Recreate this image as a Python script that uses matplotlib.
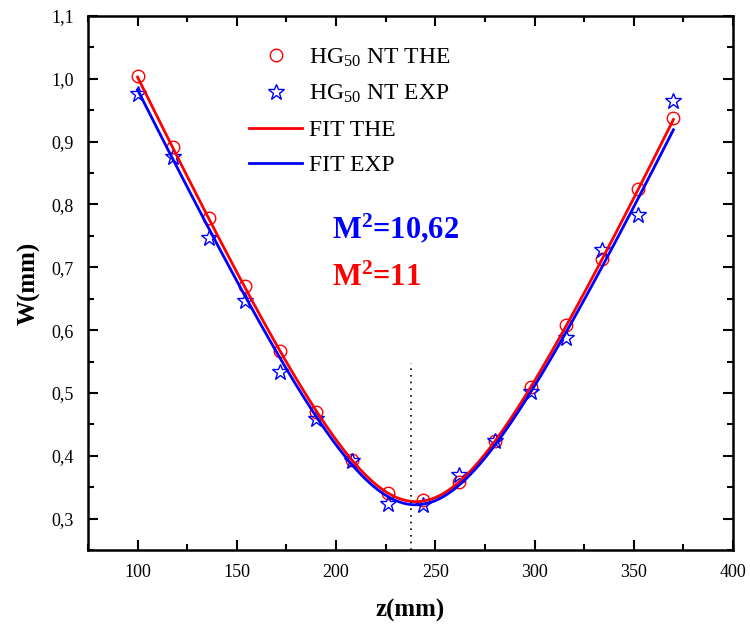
import numpy as np
import matplotlib
matplotlib.use("Agg")
import matplotlib.pyplot as plt
from matplotlib.ticker import MultipleLocator, FuncFormatter

# Times-like font throughout
plt.rcParams["font.family"] = ["Liberation Serif", "DejaVu Serif"]
plt.rcParams["mathtext.fontset"] = "custom"
plt.rcParams["mathtext.rm"] = "Liberation Serif"
plt.rcParams["mathtext.bf"] = "Liberation Serif:bold"
plt.rcParams["mathtext.it"] = "Liberation Serif:italic"

# ====================== data ======================
z_pos = [100, 118, 136, 154, 172, 190, 208, 226, 244, 262, 280, 298, 316, 334, 352, 370]
w_the = [1.004, 0.891, 0.778, 0.670, 0.566, 0.470, 0.394, 0.340,
         0.330, 0.359, 0.424, 0.510, 0.608, 0.713, 0.824, 0.937]
w_exp = [0.976, 0.875, 0.746, 0.647, 0.534, 0.458, 0.391, 0.324,
         0.322, 0.369, 0.423, 0.501, 0.587, 0.727, 0.783, 0.965]
# fitted beam parameters (W0, z0, zR) as drawn in the chart
fit_the = (0.327, 240.3, 48.4)
fit_exp = (0.322, 240.1, 48.6)
z_waist = 238
m2_exp_txt = "10,62"
m2_the_txt = "11"

# Gaussian beam width W(z) = W0 * sqrt(1 + ((z - z0) / zR)^2)
def beam_curve(params):
    w0, z0, zr = params
    zz = np.linspace(z_pos[0], z_pos[-1], 300)
    return zz, w0 * np.sqrt(1 + ((zz - z0) / zr) ** 2)

z_fit_the, w_fit_the = beam_curve(fit_the)
z_fit_exp, w_fit_exp = beam_curve(fit_exp)

fig = plt.figure(figsize=(7.5, 6.32), dpi=100)
ax = fig.add_axes([0.1173, 0.1297, 0.8600, 0.8450])

ax.plot(z_pos, w_the, "o", ms=9, mfc="none", mec="red", mew=1.0, label=r"HG$_{50}$ NT THE")
ax.plot(z_pos, w_exp, "*", ms=12, mfc="none", mec="blue", mew=1.0, label=r"HG$_{50}$ NT EXP")
ax.plot(z_fit_the, w_fit_the, color="red", lw=2, label="FIT THE")
ax.plot(z_fit_exp, w_fit_exp, color="blue", lw=2, label="FIT EXP")

ax.plot([z_waist, z_waist], [0.25, 0.548], color="black", lw=1.2, ls=(0, (1, 3)))

ax.text(198, 0.762, r"$\mathbf{M^2}$=" + m2_exp_txt, color="blue", fontsize=22,
        fontweight="bold", va="center")
ax.text(198, 0.682, r"$\mathbf{M^2}$=" + m2_the_txt, color="red", fontsize=22,
        fontweight="bold", va="center")

ax.set_xlim(75, 400)
ax.set_ylim(0.25, 1.1)
ax.xaxis.set_major_locator(MultipleLocator(50))
ax.xaxis.set_minor_locator(MultipleLocator(25))
ax.yaxis.set_major_locator(MultipleLocator(0.1))
ax.yaxis.set_minor_locator(MultipleLocator(0.05))
ax.yaxis.set_major_formatter(FuncFormatter(lambda v, p: f"{v:.1f}".replace(".", ",")))

ax.tick_params(which="both", direction="in", top=True, right=True, labelsize=13, width=1.5)
ax.tick_params(which="major", length=7, pad=10)
ax.tick_params(which="minor", length=4)
for s in ax.spines.values():
    s.set_linewidth(1.8)

ax.set_xlabel("z(mm)", fontsize=18, fontweight="bold", labelpad=13)
ax.set_ylabel("W(mm)", fontsize=18, fontweight="bold", labelpad=8)

ax.legend(loc="upper left", bbox_to_anchor=(0.217, 0.983), frameon=False, fontsize=17,
          handlelength=2.25, handletextpad=0.3, labelspacing=0.6)

fig.savefig("out.png", dpi=100)
